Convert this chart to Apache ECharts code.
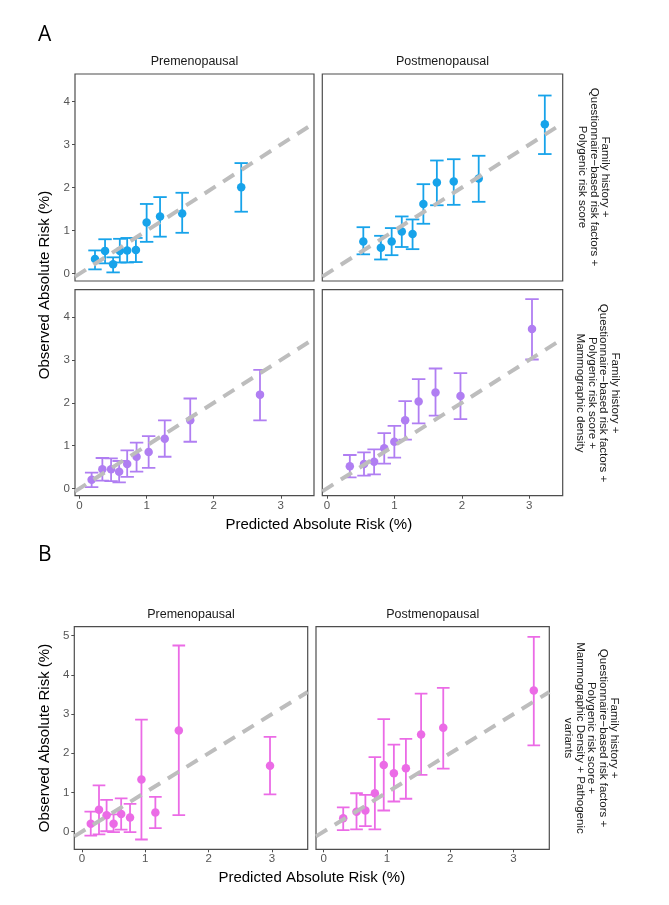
<!DOCTYPE html>
<html><head><meta charset="utf-8">
<script src="https://cdn.jsdelivr.net/npm/echarts@6/dist/echarts.min.js"></script>
<style>html,body{margin:0;padding:0;background:#fff}#c{width:669px;height:905px}</style>
</head><body><div id="c"></div>
<script>
// ---------- Data ----------
// Panel A, model 1 (FH + questionnaire + PRS), premenopausal
const aPrePred = [0.23, 0.38, 0.50, 0.60, 0.71, 0.84, 1.00, 1.20, 1.53, 2.41];
const aPreObs  = [0.34, 0.53, 0.22, 0.53, 0.54, 0.55, 1.19, 1.33, 1.40, 2.01];
const aPreLo   = [0.10, 0.24, 0.03, 0.26, 0.26, 0.27, 0.74, 0.86, 0.95, 1.44];
const aPreHi   = [0.54, 0.80, 0.38, 0.81, 0.83, 0.83, 1.62, 1.78, 1.88, 2.57];
// Panel A, model 1, postmenopausal
const aPostPred = [0.54, 0.80, 0.96, 1.11, 1.27, 1.43, 1.63, 1.88, 2.25, 3.23];
const aPostObs  = [0.75, 0.60, 0.75, 0.98, 0.92, 1.62, 2.12, 2.14, 2.21, 3.47];
const aPostLo   = [0.45, 0.33, 0.43, 0.62, 0.57, 1.16, 1.59, 1.60, 1.67, 2.78];
const aPostHi   = [1.08, 0.88, 1.06, 1.33, 1.26, 2.08, 2.63, 2.66, 2.74, 4.14];
// Panel A, model 2 (+ mammographic density), premenopausal
const aMdPrePred = [0.18, 0.34, 0.47, 0.59, 0.71, 0.85, 1.03, 1.27, 1.65, 2.69];
const aMdPreObs  = [0.20, 0.45, 0.45, 0.39, 0.57, 0.74, 0.85, 1.16, 1.59, 2.19];
const aMdPreLo   = [0.03, 0.18, 0.17, 0.14, 0.27, 0.39, 0.48, 0.74, 1.09, 1.59];
const aMdPreHi   = [0.37, 0.71, 0.70, 0.64, 0.89, 1.07, 1.22, 1.59, 2.10, 2.77];
// Panel A, model 2, postmenopausal
const aMdPostPred = [0.34, 0.55, 0.70, 0.85, 1.00, 1.16, 1.36, 1.61, 1.98, 3.04];
const aMdPostObs  = [0.52, 0.57, 0.62, 0.94, 1.09, 1.59, 2.03, 2.24, 2.16, 3.72];
const aMdPostLo   = [0.26, 0.30, 0.33, 0.58, 0.72, 1.14, 1.52, 1.70, 1.62, 3.01];
const aMdPostHi   = [0.78, 0.84, 0.91, 1.29, 1.46, 2.04, 2.55, 2.80, 2.69, 4.42];
// Panel B (+ pathogenic variants), premenopausal
const bPrePred = [0.14, 0.27, 0.39, 0.50, 0.62, 0.76, 0.94, 1.16, 1.53, 2.97];
const bPreObs  = [0.20, 0.56, 0.42, 0.20, 0.45, 0.36, 1.33, 0.49, 2.58, 1.68];
const bPreLo   = [-0.10, -0.07, 0.01, -0.01, 0.05, -0.01, -0.20, 0.09, 0.42, 0.95];
const bPreHi   = [0.51, 1.18, 0.81, 0.44, 0.85, 0.71, 2.86, 0.89, 4.75, 2.42];
// Panel B, postmenopausal
const bPostPred = [0.31, 0.52, 0.66, 0.81, 0.95, 1.11, 1.30, 1.54, 1.89, 3.32];
const bPostObs  = [0.34, 0.51, 0.54, 0.98, 1.70, 1.49, 1.62, 2.48, 2.65, 3.60];
const bPostLo   = [0.04, 0.06, 0.14, 0.06, 0.54, 0.77, 0.84, 1.45, 1.61, 2.20];
const bPostHi   = [0.62, 0.98, 0.94, 1.90, 2.87, 2.22, 2.37, 3.52, 3.67, 4.97];

// Tick labels
const xTicks  = [0, 1, 2, 3];
const yTicksA = [0, 1, 2, 3, 4];
const yTicksB = [0, 1, 2, 3, 4, 5];

// Text
const stripTop = ['Premenopausal', 'Postmenopausal'];
const rowLabelA1 = 'Family history +\nQuestionnaire\u2212based risk factors +\nPolygenic risk score';
const rowLabelA2 = 'Family history +\nQuestionnaire\u2212based risk factors +\nPolygenic risk score +\nMammographic density';
const rowLabelB  = 'Family history +\nQuestionnaire\u2212based risk factors +\nPolygenic risk score +\nMammographic Density + Pathogenic\nvariants';
const xTitle = 'Predicted Absolute Risk (%)';
const yTitle = 'Observed Absolute Risk (%)';

// ---------- Layout / style ----------
const FONT = '"Liberation Sans", Arial, sans-serif';
const BLUE = '#17A3EA', PURPLE = '#B07EF2', PINK = '#EB6BE6';
const rangeAx = [-0.068, 3.495], rangeAy = [-0.17, 4.64];
const rangeBx = [-0.12, 3.565], rangeBy = [-0.45, 5.23];

const panels = [
  {grid:{left:75,  top:74,    width:239,   height:207}, xr:rangeAx, yr:rangeAy, yt:yTicksA, xl:false, yl:true,
   pred:aPrePred, obs:aPreObs, lo:aPreLo, hi:aPreHi, color:BLUE},
  {grid:{left:322.3, top:74,  width:240.4, height:207}, xr:rangeAx, yr:rangeAy, yt:yTicksA, xl:false, yl:false,
   pred:aPostPred, obs:aPostObs, lo:aPostLo, hi:aPostHi, color:BLUE},
  {grid:{left:75,  top:289.7, width:239,   height:206}, xr:rangeAx, yr:rangeAy, yt:yTicksA, xl:true, yl:true,
   pred:aMdPrePred, obs:aMdPreObs, lo:aMdPreLo, hi:aMdPreHi, color:PURPLE},
  {grid:{left:322.3, top:289.7, width:240.4, height:206}, xr:rangeAx, yr:rangeAy, yt:yTicksA, xl:true, yl:false,
   pred:aMdPostPred, obs:aMdPostObs, lo:aMdPostLo, hi:aMdPostHi, color:PURPLE},
  {grid:{left:74.3, top:626.7, width:233.4, height:222.6}, xr:rangeBx, yr:rangeBy, yt:yTicksB, xl:true, yl:true,
   pred:bPrePred, obs:bPreObs, lo:bPreLo, hi:bPreHi, color:PINK},
  {grid:{left:316,  top:626.7, width:233.3, height:222.6}, xr:rangeBx, yr:rangeBy, yt:yTicksB, xl:true, yl:false,
   pred:bPostPred, obs:bPostObs, lo:bPostLo, hi:bPostHi, color:PINK}
];

const grids = [], xAxes = [], yAxes = [], series = [];
panels.forEach((p, i) => {
  grids.push(Object.assign({show:true, borderColor:'#4d4d4d', borderWidth:1.2, backgroundColor:'#fff'}, p.grid));
  xAxes.push({type:'value', gridIndex:i, min:p.xr[0], max:p.xr[1],
    axisLine:{show:false, onZero:false}, splitLine:{show:false},
    axisTick:{show:p.xl, length:3, customValues:xTicks, lineStyle:{color:'#4d4d4d', width:1}},
    axisLabel:{show:p.xl, customValues:xTicks, color:'#555', fontSize:11.5, fontFamily:FONT, margin:4}});
  yAxes.push({type:'value', gridIndex:i, min:p.yr[0], max:p.yr[1],
    axisLine:{show:false, onZero:false}, splitLine:{show:false},
    axisTick:{show:p.yl, length:3, customValues:p.yt, lineStyle:{color:'#4d4d4d', width:1}},
    axisLabel:{show:p.yl, customValues:p.yt, color:'#555', fontSize:11.5, fontFamily:FONT, margin:5}});
  const col = p.color;
  // error bars
  series.push({type:'custom', xAxisIndex:i, yAxisIndex:i, z:2, clip:true,
    data:p.pred.map((x, k) => [x, p.lo[k], p.hi[k]]),
    encode:{x:0, y:[1, 2]},
    renderItem:function(params, api){
      const x = api.value(0), lo = api.value(1), hi = api.value(2);
      const a = api.coord([x, lo]), b = api.coord([x, hi]);
      const l = api.coord([x - 0.1, lo])[0], r = api.coord([x + 0.1, lo])[0];
      const st = {stroke:col, lineWidth:1.8, fill:null};
      return {type:'group', children:[
        {type:'line', shape:{x1:a[0], y1:a[1], x2:b[0], y2:b[1]}, style:st},
        {type:'line', shape:{x1:l, y1:a[1], x2:r, y2:a[1]}, style:st},
        {type:'line', shape:{x1:l, y1:b[1], x2:r, y2:b[1]}, style:st}
      ]};
    }});
  // points
  series.push({type:'scatter', xAxisIndex:i, yAxisIndex:i, z:3, symbol:'circle', symbolSize:8.5,
    itemStyle:{color:col, opacity:1}, data:p.pred.map((x, k) => [x, p.obs[k]])});
  // identity line y = x across the panel
  series.push({type:'line', xAxisIndex:i, yAxisIndex:i, z:4, symbol:'none', clip:true, silent:true,
    lineStyle:{color:'#BDBDBD', width:4, type:[13, 9]},
    data:[[p.xr[0], p.xr[0]], [p.xr[1], p.xr[1]]]});
});

const txt = (x, y, text, o) => ({type:'text', x, y, silent:true,
  style:Object.assign({text, fill:'#1a1a1a', font:'12px ' + FONT, textAlign:'center', textVerticalAlign:'middle'}, o || {})});

const graphic = [
  txt(38, 35, 'A', {font:'21px "Open Sans", sans-serif', fill:'#000', textAlign:'left'}),
  txt(38, 555, 'B', {font:'21px "Open Sans", sans-serif', fill:'#000', textAlign:'left'}),
  txt(194.5, 62, stripTop[0], {font:'12.5px ' + FONT}),
  txt(442.5, 62, stripTop[1], {font:'12.5px ' + FONT}),
  txt(191, 615, stripTop[0], {font:'12.5px ' + FONT}),
  txt(432.7, 615, stripTop[1], {font:'12.5px ' + FONT}),
  Object.assign(txt(0, 0, rowLabelA1, {font:'11.5px ' + FONT, lineHeight:11.5}), {x:594, y:177, rotation:-Math.PI/2}),
  Object.assign(txt(0, 0, rowLabelA2, {font:'11.5px ' + FONT, lineHeight:11.5}), {x:597.5, y:393, rotation:-Math.PI/2}),
  Object.assign(txt(0, 0, rowLabelB, {font:'11.5px ' + FONT, lineHeight:11.5}), {x:591.5, y:738, rotation:-Math.PI/2}),
  txt(318.8, 524.5, xTitle, {font:'15px ' + FONT, fill:'#000'}),
  txt(311.8, 878.3, xTitle, {font:'15px ' + FONT, fill:'#000'}),
  Object.assign(txt(0, 0, yTitle, {font:'15px ' + FONT, fill:'#000'}), {x:45, y:285, rotation:Math.PI/2}),
  Object.assign(txt(0, 0, yTitle, {font:'15px ' + FONT, fill:'#000'}), {x:45, y:738, rotation:Math.PI/2})
];

const chart = echarts.init(document.getElementById('c'), null, {renderer:'canvas'});
chart.setOption({
  animation:false,
  backgroundColor:'#fff',
  grid:grids, xAxis:xAxes, yAxis:yAxes, series, graphic
});
</script>
</body></html>
